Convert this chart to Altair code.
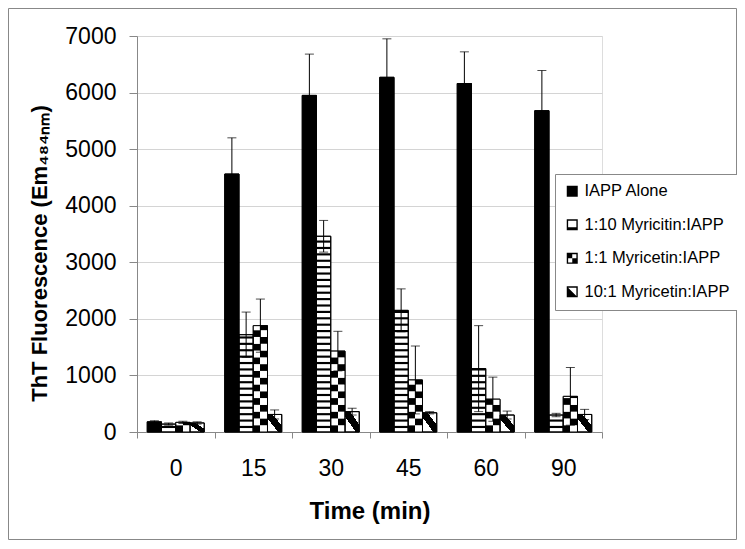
import altair as alt
import pandas as pd

times = ["0", "15", "30", "45", "60", "90"]
series = ["IAPP Alone", "1:10 Myricitin:IAPP", "1:1 Myricetin:IAPP", "10:1 Myricetin:IAPP"]

iapp = [180, 4560, 5950, 6270, 6160, 5680]
iapp_err = [20, 640, 730, 680, 560, 710]
m110 = [140, 1720, 3460, 2150, 1120, 300]
m110_err = [20, 400, 280, 380, 760, 30]
m11 = [170, 1880, 1430, 920, 580, 630]
m11_err = [20, 470, 350, 600, 390, 510]
m101 = [160, 310, 360, 340, 300, 310]
m101_err = [20, 80, 60, 20, 70, 90]

y_ticks = [0, 1000, 2000, 3000, 4000, 5000, 6000, 7000]

rows = []
for s, vals, errs in zip(series, [iapp, m110, m11, m101], [iapp_err, m110_err, m11_err, m101_err]):
    for t, v, e in zip(times, vals, errs):
        rows.append({"time": t, "series": s, "value": v, "err": e, "lo": v - e, "hi": v + e})
df = pd.DataFrame(rows)

W, H = 465, 396
FONT = "Liberation Sans"

x_enc = alt.X("time:N", sort=times,
              scale=alt.Scale(domain=times, paddingInner=0, paddingOuter=0),
              axis=alt.Axis(title="Time (min)", labelAngle=0, tickBand="extent", grid=False,
                            domainColor="#888888", tickColor="#888888", tickSize=6,
                            labelFontSize=23, labelPadding=19, labelColor="black", labelFont=FONT,
                            titleFontSize=24, titleFont=FONT, titleFontWeight="bold", titleColor="black",
                            titleY=86, titleBaseline="alphabetic"))
xo_enc = alt.XOffset("series:N", sort=series,
                     scale=alt.Scale(domain=series, paddingInner=0, paddingOuter=0.72))
y_axis = alt.Axis(values=y_ticks, format="d", grid=True, gridColor="#d4d4d4", domainColor="#888888",
                  tickColor="#888888", tickSize=8, labelPadding=13, labelFontSize=23,
                  labelColor="black", labelFont=FONT,
                  title="ThT Fluorescence (Em\u2084\u2088\u2084\u2099\u2098)", titleFontSize=22,
                  titleFont=FONT, titleFontWeight="bold", titleColor="black",
                  titleX=-98, titleY=217, titleAngle=270, titleBaseline="middle", titleAlign="center")
yscale = alt.Scale(domain=[0, 7000], nice=False)


def Y(field):
    return alt.Y(field, scale=yscale, axis=y_axis)


def stops(pairs):
    return [{"offset": o, "color": c} for o, c in pairs]


grad_left = {"gradient": "linear", "x1": 0, "y1": 0, "x2": 1, "y2": 0,
             "stops": stops([(0, "black"), (0.5, "black"), (0.5, "white"), (1, "white")])}
grad_right = {"gradient": "linear", "x1": 0, "y1": 0, "x2": 1, "y2": 0,
              "stops": stops([(0, "white"), (0.5, "white"), (0.5, "black"), (1, "black")])}
grad_diag = {"gradient": "linear", "x1": 1, "y1": 0, "x2": 0, "y2": 1,
             "stops": stops([(0, "white"), (0.32, "white"), (0.32, "black"), (0.62, "black"),
                             (0.62, "white"), (1, "white")])}

base = alt.Chart(df)

bars = base.mark_bar(stroke="black", strokeWidth=1).encode(
    x=x_enc, xOffset=xo_enc, y=Y("value:Q"),
    fill=alt.when(alt.datum.series == series[0]).then(alt.value("black"))
    .when(alt.datum.series == series[3]).then(alt.value(grad_diag))
    .otherwise(alt.value("white")),
)

stripes = base.transform_filter(alt.datum.series == series[1]).transform_calculate(
    s0="sequence(70, datum.value - 30, 113)"
).transform_flatten(["s0"]).transform_calculate(
    s1="datum.s0 + 38"
).mark_bar(fill="black", strokeWidth=0).encode(
    x=x_enc, xOffset=xo_enc, y=Y("s0:Q"), y2="s1:Q"
)

checker = base.transform_filter(alt.datum.series == series[2]).transform_calculate(
    r0="sequence(0, datum.value, 120)"
).transform_flatten(["r0"]).transform_calculate(
    r1="min(datum.r0 + 120, datum.value)", par="floor(datum.r0 / 120) % 2"
).mark_bar(strokeWidth=0).encode(
    x=x_enc, xOffset=xo_enc, y=Y("r0:Q"), y2="r1:Q",
    fill=alt.when(alt.datum.par == 0).then(alt.value(grad_left)).otherwise(alt.value(grad_right)),
)

outline = base.mark_bar(fill="white", fillOpacity=0, stroke="black", strokeWidth=1).encode(
    x=x_enc, xOffset=xo_enc, y=Y("value:Q")
)

err_rule = base.mark_rule(color="black", strokeWidth=1).encode(
    x=x_enc, xOffset=xo_enc, y=Y("lo:Q"), y2="hi:Q"
)
cap_hi = base.mark_tick(color="black", thickness=1, size=9).encode(
    x=x_enc, xOffset=xo_enc, y=Y("hi:Q")
)
cap_lo = base.mark_tick(color="black", thickness=1, size=9).encode(
    x=x_enc, xOffset=xo_enc, y=Y("lo:Q")
)

paths = [
    "M-1,-1H1V1H-1Z",
    "M-1,-1H1V1H-1Z M-0.75,-0.75V0.45H0.75V-0.75Z",
    "M-1,-1H1V1H-1Z M-0.75,-0.75V0.75H0.75V-0.75Z M-0.75,-0.75H0V0H-0.75Z M0,0H0.75V0.75H0Z",
    "M-1,-1H1V1H-1Z M-0.75,-0.75V0.75H0.75V-0.75Z M-0.75,-0.75L0.75,0.75H-0.75Z",
]

# legend-only layer: its points sit outside the plot and are clipped away
legend_layer = base.mark_point(filled=True, fill="black", clip=True, size=121).encode(
    x=x_enc, xOffset=xo_enc, y=alt.value(-3000),
    shape=alt.Shape("series:N", sort=series, scale=alt.Scale(domain=series, range=paths),
                    legend=alt.Legend(title=None, orient="none", legendX=418, legendY=138,
                                      fillColor="white", strokeColor="#888888", padding=9,
                                      labelFontSize=16.5, labelFont=FONT, labelColor="black",
                                      symbolSize=121, symbolFillColor="black",
                                      symbolStrokeWidth=0, symbolOpacity=1,
                                      rowPadding=16.5, labelOffset=4, labelLimit=300)),
)

frame = alt.Chart(pd.DataFrame({"a": [0]})).mark_rect(
    fill="white", fillOpacity=0, stroke="#888888", strokeWidth=1
).encode(
    x=alt.value(-128.5), x2=alt.value(599.5), y=alt.value(-27.5), y2=alt.value(503.5)
)

chart = alt.layer(
    bars, stripes, checker, outline, err_rule, cap_hi, cap_lo, legend_layer, frame
).properties(
    width=W, height=H,
    autosize=alt.AutoSizeParams(type="none"),
    padding={"left": 129, "top": 28, "right": 135, "bottom": 108},
).configure_view(stroke=None).configure(font=FONT)

chart.save("out.html", embed_options={"renderer": "svg", "actions": False})
